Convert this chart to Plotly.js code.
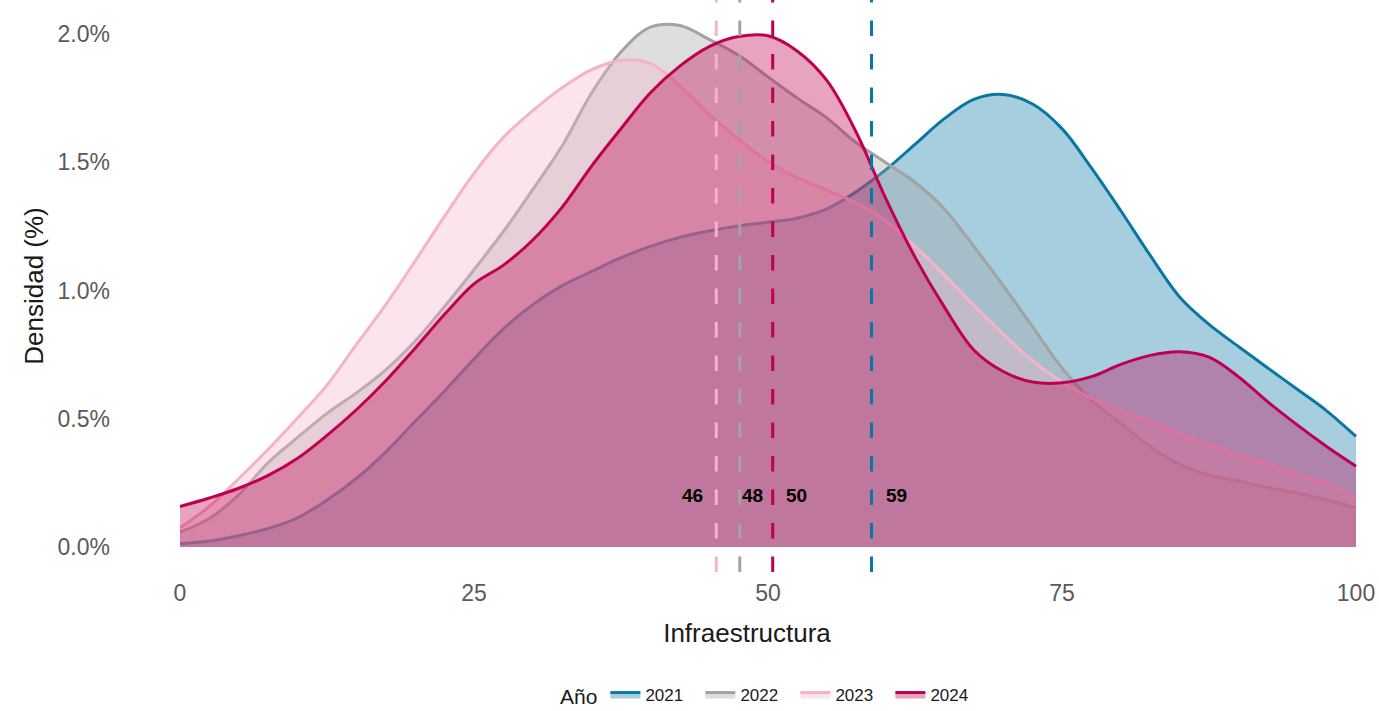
<!DOCTYPE html>
<html>
<head>
<meta charset="utf-8">
<script src="https://cdn.plot.ly/plotly-3.0.1.min.js"></script>
<style>html,body{margin:0;padding:0;background:#fff;}#chart{width:1379px;height:711px;}</style>
</head>
<body>
<div id="chart"></div>
<script>
// ---- data ----
const years = ['2021', '2022', '2023', '2024'];
const xGrid = [0, 2.5, 5, 7.5, 10, 12.5, 15, 17.5, 20, 22.5, 25, 27.5, 30, 32.5, 35, 37.5, 40, 42.5, 45, 47.5,
  50, 52.5, 55, 57.5, 60, 62.5, 65, 67.5, 70, 72.5, 75, 77.5, 80, 82.5, 85, 87.5, 90, 92.5, 95, 97.5, 100];
const dens2021 = [0.013,0.023,0.044,0.072,0.114,0.183,0.267,0.371,0.490,0.608,0.733,0.850,0.945,1.019,1.074,1.128,1.172,1.207,1.232,1.252,
  1.266,1.282,1.318,1.385,1.470,1.570,1.670,1.745,1.764,1.727,1.631,1.478,1.311,1.137,0.975,0.868,0.782,0.698,0.615,0.531,0.431];
const dens2022 = [0.058,0.111,0.204,0.329,0.427,0.521,0.601,0.691,0.803,0.938,1.081,1.230,1.394,1.564,1.770,1.930,2.027,2.033,1.979,1.917,
  1.833,1.750,1.673,1.576,1.499,1.422,1.318,1.172,1.019,0.859,0.698,0.573,0.482,0.392,0.322,0.281,0.257,0.232,0.211,0.183,0.152];
const dens2023 = [0.075,0.158,0.267,0.381,0.503,0.631,0.790,0.945,1.115,1.290,1.457,1.597,1.701,1.791,1.861,1.898,1.885,1.798,1.687,1.590,
  1.503,1.439,1.392,1.342,1.272,1.172,1.061,0.942,0.831,0.726,0.643,0.580,0.531,0.490,0.441,0.399,0.357,0.322,0.281,0.246,0.190];
const dens2024 = [0.158,0.191,0.229,0.279,0.346,0.435,0.535,0.648,0.775,0.907,1.026,1.099,1.197,1.325,1.485,1.631,1.771,1.875,1.951,1.990,
  1.993,1.933,1.819,1.617,1.360,1.130,0.935,0.768,0.684,0.643,0.640,0.664,0.712,0.747,0.761,0.740,0.664,0.566,0.476,0.392,0.315];
const means = [58.8, 47.6, 45.6, 50.4];
const meanLabels = ['59', '48', '46', '50'];
const yTicks = [0, 0.5, 1.0, 1.5, 2.0];
const xTicks = [0, 25, 50, 75, 100];

// ---- styles ----
const lineColors = ['#0a77a3', '#a3a3a3', '#f5b3c8', '#bf0050'];
const fillColors = ['rgba(10,119,163,0.36)', 'rgba(163,163,163,0.36)', 'rgba(245,179,200,0.36)', 'rgba(191,0,80,0.36)'];
const labelShift = [25, 13, -24, 24];
const series = [dens2021, dens2022, dens2023, dens2024];
const FONT = 'Liberation Sans, Arial, sans-serif';

const traces = years.map((yr, i) => ({
  type: 'scatter', mode: 'lines', name: yr,
  x: xGrid, y: series[i],
  line: {color: lineColors[i], width: 3, shape: 'spline', smoothing: 1},
  fill: 'tozeroy', fillcolor: fillColors[i],
  hoverinfo: 'skip'
}));

const shapes = means.map((m, i) => ({
  type: 'line', xref: 'x', yref: 'paper', x0: m, x1: m, y0: 0, y1: 1,
  line: {color: lineColors[i], width: 3, dash: '15.5px,18px'}
}));

const annotations = means.map((m, i) => ({
  x: m, y: 0.2, xref: 'x', yref: 'y', text: meanLabels[i], showarrow: false,
  xshift: labelShift[i], font: {family: FONT, size: 19, color: '#000', weight: 'bold'}
}));

const layout = {
  width: 1379, height: 711,
  margin: {l: 115, r: 0, t: 0, b: 139, autoexpand: false},
  paper_bgcolor: '#fff', plot_bgcolor: '#fff',
  font: {family: FONT},
  showlegend: true,
  legend: {
    orientation: 'h', xref: 'container', yref: 'container',
    x: 558 / 1379, xanchor: 'left', y: 1 - 696 / 711, yanchor: 'middle',
    title: {text: 'Año', side: 'left', font: {size: 21, color: '#1a1a1a'}},
    font: {size: 17, color: '#1a1a1a'}, traceorder: 'normal',
    entrywidth: 50, entrywidthmode: 'pixels'
  },
  xaxis: {
    automargin: false,
    range: [(115 - 180) / 11.76, (1379 - 180) / 11.76],
    tickvals: xTicks, ticktext: xTicks.map(String),
    showgrid: false, zeroline: false, showline: false, ticks: '',
    tickfont: {size: 23, color: '#5a5a5a'}, ticklabelstandoff: 5,
    title: {text: 'Infraestructura', font: {size: 26, color: '#1a1a1a'}, standoff: 18}
  },
  yaxis: {
    automargin: false,
    range: [-25 / 256.5, 547 / 256.5],
    tickvals: yTicks, ticktext: yTicks.map(v => v.toFixed(1) + '%'),
    showgrid: false, zeroline: false, showline: false, ticks: '',
    tickfont: {size: 23, color: '#5a5a5a'}, ticklabelstandoff: 4,
    title: {text: 'Densidad (%)', font: {size: 26, color: '#1a1a1a'}, standoff: 6}
  },
  shapes: shapes,
  annotations: annotations
};

Plotly.newPlot('chart', traces, layout, {displayModeBar: false, staticPlot: true});
</script>
</body>
</html>
